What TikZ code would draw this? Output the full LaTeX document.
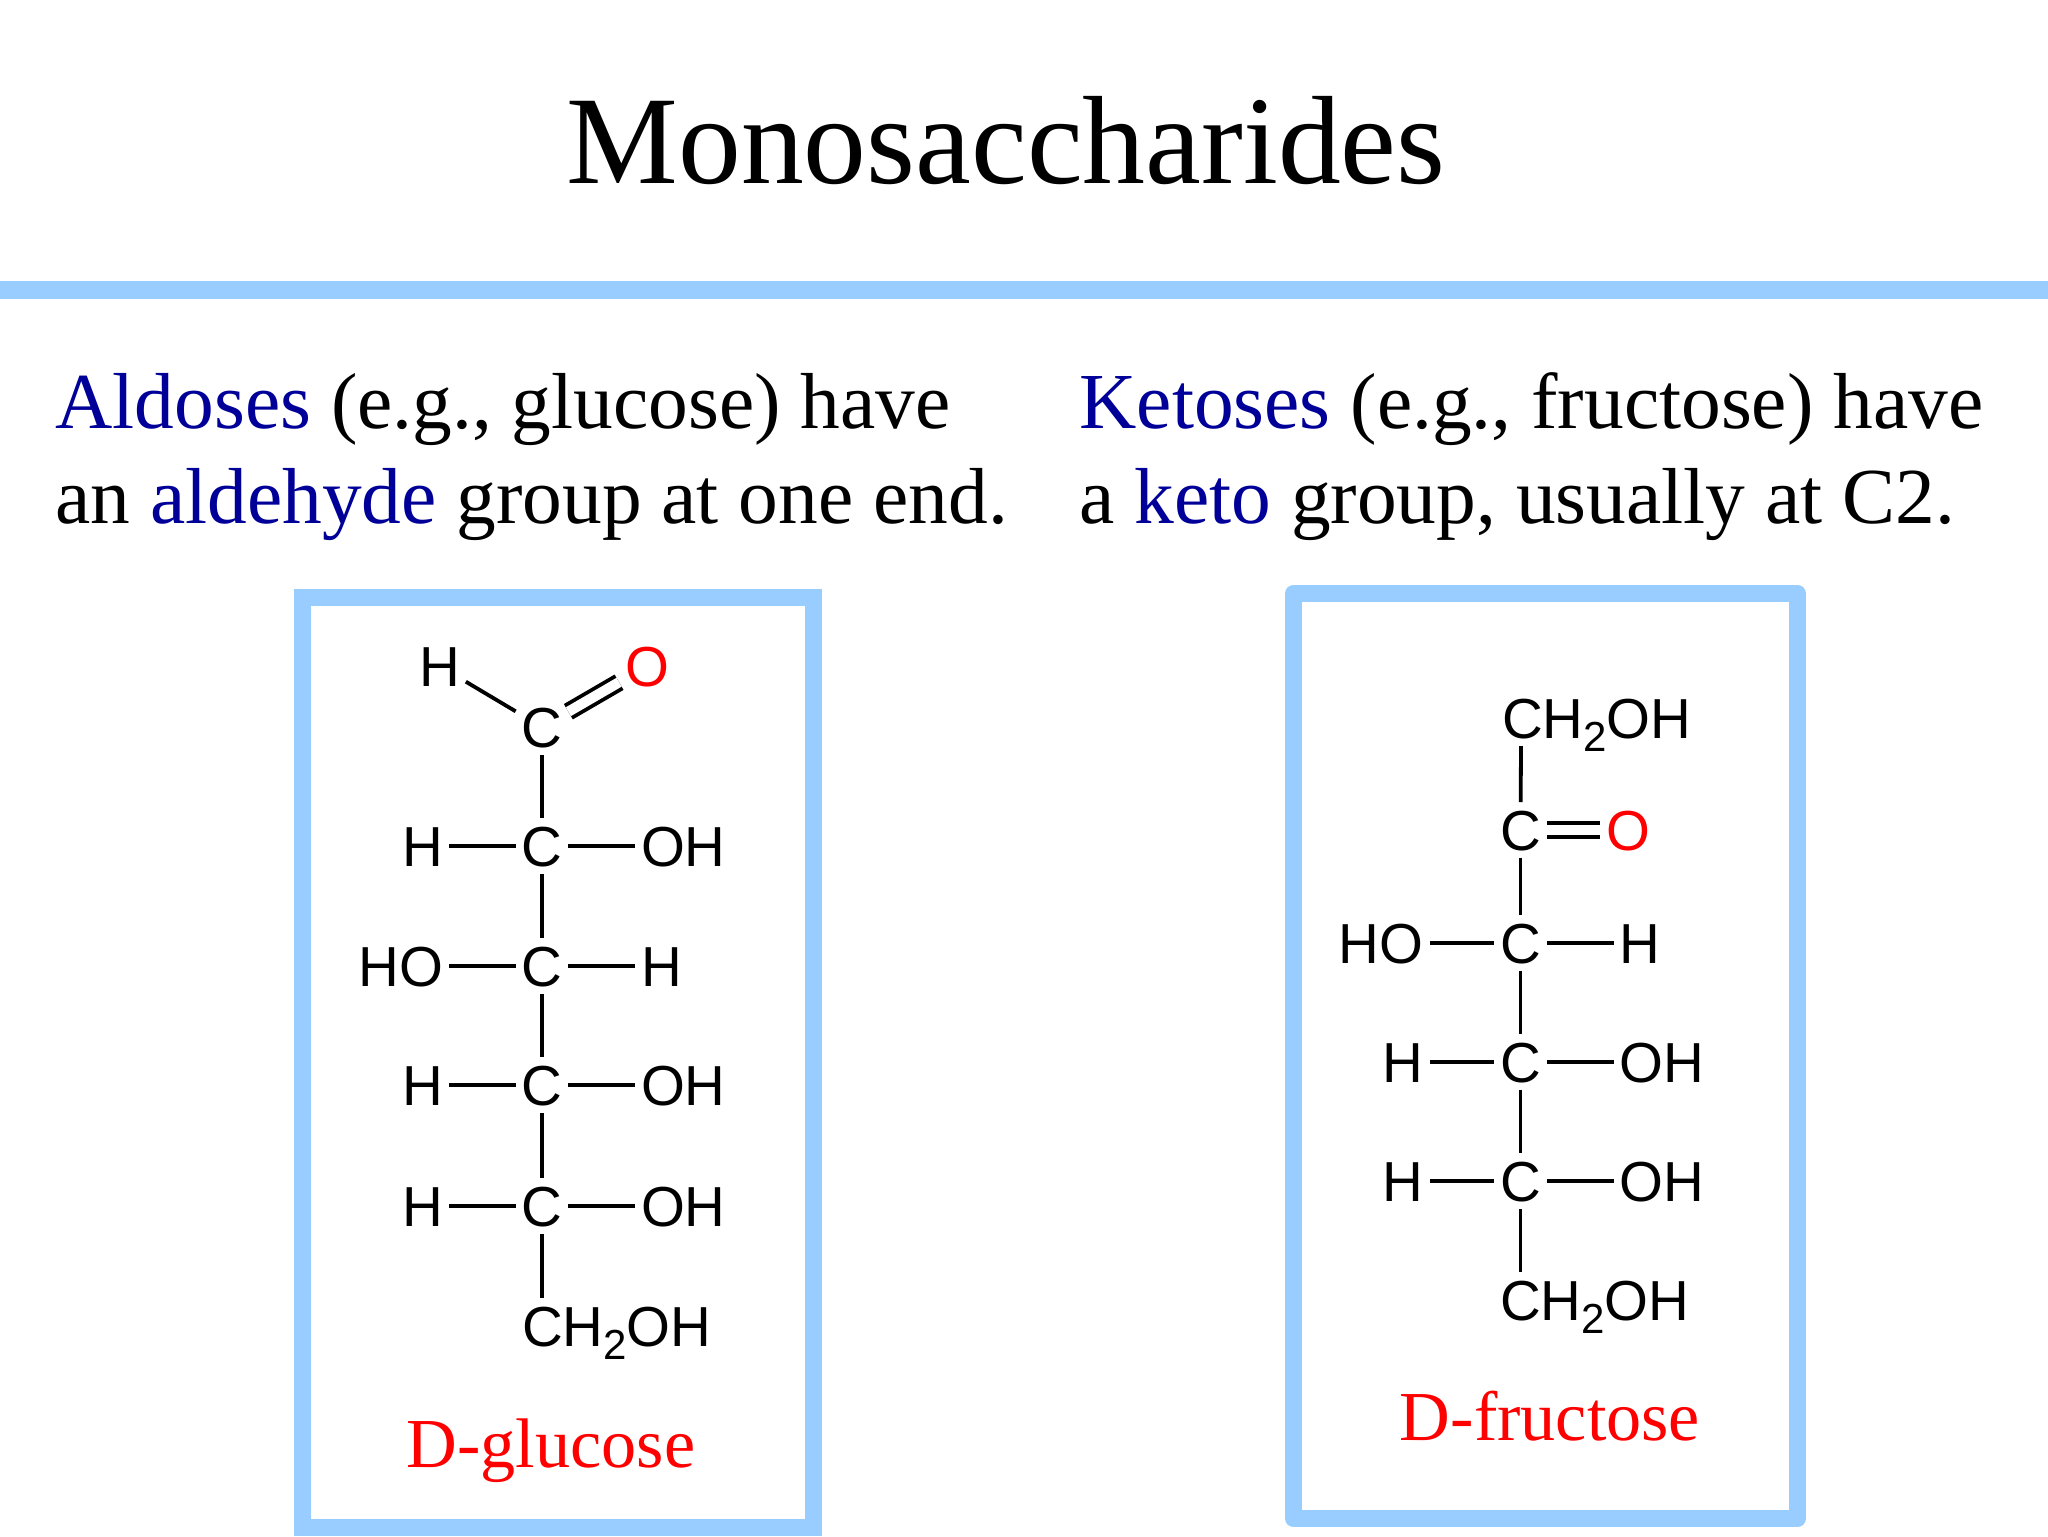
\documentclass[tikz,border=0pt]{standalone}
\usepackage{fontspec}
\setmainfont{Liberation Serif}
\newfontfamily\arialfont{Liberation Sans}
\usetikzlibrary{calc}
\definecolor{rulebar}{HTML}{99CCFF}
\definecolor{term}{HTML}{000099}
\tikzset{ a/.style = { rectangle % atom label
, inner sep = 0pt
, outer xsep = 3pt
, outer ysep = 4pt
, text height = 20pt
, text depth = 0pt
, font = \arialfont\fontsize{28.2}{28}\selectfont
}
, b/.style = { line width = 1.9pt % single bond
}
, bb/.style = { b % double bond
, double
, double distance = 5.1pt
}
, t/.style = { anchor = base west % body text line
, inner sep = 0pt
, font = \fontsize{39.7}{48}\selectfont
}
, nm/.style = { anchor = base % sugar name
, inner sep = 0pt
, text = red
, font = \fontsize{35.1}{42}\selectfont
}
, frame/.style = { draw = rulebar
, line width = 8.5pt
}
}
\def\subtwo{\raisebox{-6.5pt}{\fontsize{21}{21}\selectfont 2}}
\def\carbon(#1,#2,#3,#4)#5#6{% chain carbon
\node[a] (#1) at (#2,#3) {C};
\node[a, anchor=east] (#1l) at ($(#1)+(#4,0)$) {#5};
\node[a, anchor=west] (#1r) at ($(#1)+(93,0)$) {#6};
\draw[b] (#1l) -- (#1) -- (#1r);
}
\begin{document}
\begin{tikzpicture}[x=0.5pt, y=-0.5pt]
\useasboundingbox (0,0) rectangle (2048,1536);
\fill[rulebar] (0,281) rectangle (2048,299);

\node[anchor=base, inner sep=0pt, font=\fontsize{62.8}{74}\selectfont] (title) at (1006,183) {Monosaccharides};
\node[t] (ald1) at (55,428.5) {\textcolor{term}{Aldoses} (e.g., glucose) have};
\node[t] (ald2) at (55,523.5) {an \textcolor{term}{aldehyde} group at one end.};
\node[t] (ket1) at (1079,428.5) {\textcolor{term}{Ketoses} (e.g., fructose) have};
\node[t] (ket2) at (1079,523.5) {a \textcolor{term}{keto} group, usually at C2.};

\draw[frame] (302.5,597.5) rectangle (813.5,1527.5);
\draw[frame, line join=round] (1293.5,593.5) rectangle (1797.5,1518.5);

% glucose
\node[a] (g0) at (542,727) {C};
\node[a] (g0h) at (439.5,666) {H};
\node[a, text=red] (g0o) at (647,666) {O};
\draw[b] (g0h) -- (g0);
\draw[bb] (g0) -- (g0o);
\foreach[count=\n] \y/\lft/\rgt in {846/H/OH, 966/HO/H, 1085/H/OH, 1206/H/OH} \carbon(g\n,542,\y,-93){\lft}{\rgt};
\node[a, anchor=west] (gend) at (516,1326) {CH\subtwo OH};
\foreach \p/\q in {g0/g1, g1/g2, g2/g3, g3/g4} \draw[b] (\p) -- (\q);
\draw[b] (g4) -- (gend.north -| g4);
\node[nm] (gname) at (551,1467) {D-glucose};

% fructose
\node[a, anchor=west] (ftop) at (1496,718) {CH\subtwo OH};
\coordinate (ftopc) at ([xshift=12.5pt]ftop.south west);
\node[a] (f0) at (1520.5,830) {C};
\node[a, text=red] (f0o) at (1628,830) {O};
\draw[b] (ftopc) -- (f0);
\draw[bb] (f0) -- (f0o);
\foreach[count=\n] \y/\lft/\rgt in {943/HO/H, 1062/H/OH, 1181/H/OH} \carbon(f\n,1520.5,\y,-91){\lft}{\rgt};
\node[a, anchor=west] (fend) at (1494,1300) {CH\subtwo OH};
\foreach \p/\q in {f0/f1, f1/f2, f2/f3} \draw[b] (\p) -- (\q);
\draw[b] (f3) -- (fend.north -| f3);
\node[nm] (fname) at (1550,1440) {D-fructose};
\end{tikzpicture}
\end{document}
